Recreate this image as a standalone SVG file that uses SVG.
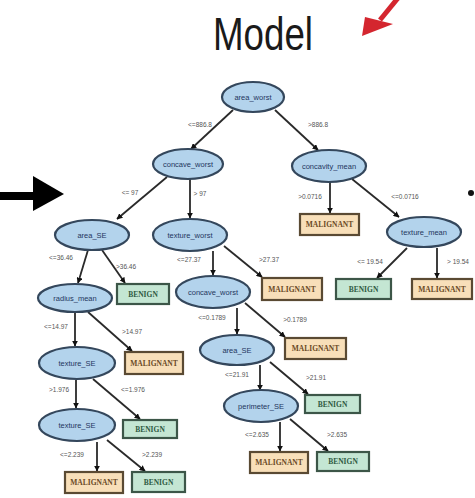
<svg xmlns="http://www.w3.org/2000/svg" width="475" height="498" viewBox="0 0 475 498">
  <style>
    .split ellipse { fill: #b3d3ec; stroke: #34475c; stroke-width: 2.2; }
    .split text { font-family: "Liberation Sans Narrow", "Liberation Sans", sans-serif; font-size: 7.5px; fill: #24365e; text-anchor: middle; }
    .leaf rect { stroke-width: 2.2; }
    .leaf text { font-family: "Liberation Serif", serif; font-size: 7.5px; font-weight: bold; text-anchor: middle; }
    .mal rect { fill: #f8dfb9; stroke: #5a4a33; }
    .mal text { fill: #6a4a26; }
    .ben rect { fill: #c4e6d3; stroke: #3c5648; }
    .ben text { fill: #2f5a42; }
    .edges line { stroke: #2a2a2a; stroke-width: 1.8; marker-end: url(#tip); }
    .cond { font-family: "Liberation Sans Narrow", "Liberation Sans", sans-serif; font-size: 6.5px; fill: #555; text-anchor: middle; }
    .title { font-family: "Liberation Sans Narrow", "Liberation Sans", sans-serif; font-size: 46px; fill: #1a1a1a; text-anchor: middle; }
  </style>
  <defs>
    <marker id="tip" viewBox="0 0 10 10" refX="9" refY="5" markerWidth="6" markerHeight="6" markerUnits="userSpaceOnUse" orient="auto">
      <path d="M0,0 L10,5 L0,10 z" fill="#111"/>
    </marker>
  </defs>

  <rect width="475" height="498" fill="#ffffff"/>

  <!-- heading and pointers -->
  <text class="title" x="263" y="50" textLength="100" lengthAdjust="spacingAndGlyphs">Model</text>
  <g id="red-arrow" fill="#d4262f">
    <line x1="398" y1="-2" x2="380" y2="20" stroke="#d4262f" stroke-width="5"/>
    <polygon points="362,36 365,17 393,24"/>
  </g>
  <g id="black-arrow" fill="#000">
    <rect x="0" y="192" width="35" height="8"/>
    <polygon points="33,176 33,211 64,194"/>
  </g>
  <circle cx="471" cy="193" r="3" fill="#111"/>

  <!-- connectors -->
  <g class="edges">
    <line x1="233" y1="110" x2="191" y2="149"/>
    <line x1="275" y1="110" x2="318" y2="150"/>
    <line x1="167" y1="177" x2="117" y2="219"/>
    <line x1="190" y1="179" x2="190" y2="218"/>
    <line x1="330" y1="182" x2="330" y2="213"/>
    <line x1="352" y1="179" x2="399" y2="217"/>
    <line x1="407" y1="248" x2="377" y2="278"/>
    <line x1="437" y1="248" x2="437" y2="278"/>
    <line x1="88" y1="250" x2="78" y2="283"/>
    <line x1="102" y1="250" x2="125" y2="283"/>
    <line x1="75" y1="312" x2="75" y2="346"/>
    <line x1="88" y1="312" x2="132" y2="351"/>
    <line x1="76" y1="380" x2="76" y2="408"/>
    <line x1="93" y1="379" x2="140" y2="419"/>
    <line x1="97" y1="442" x2="97" y2="471"/>
    <line x1="107" y1="440" x2="145" y2="471"/>
    <line x1="213" y1="251" x2="213" y2="275"/>
    <line x1="224" y1="246" x2="262" y2="277"/>
    <line x1="237" y1="308" x2="237" y2="334"/>
    <line x1="245" y1="303" x2="285" y2="337"/>
    <line x1="260" y1="365" x2="260" y2="390"/>
    <line x1="270" y1="362" x2="308" y2="394"/>
    <line x1="280" y1="422" x2="280" y2="451"/>
    <line x1="290" y1="419" x2="328" y2="451"/>
  </g>

  <!-- split conditions -->
  <g id="conditions">
    <text class="cond" x="200" y="127">&lt;=886.8</text>
    <text class="cond" x="318" y="127">&gt;886.8</text>
    <text class="cond" x="130" y="195">&lt;= 97</text>
    <text class="cond" x="200" y="196">&gt; 97</text>
    <text class="cond" x="310" y="199">&gt;0.0716</text>
    <text class="cond" x="405" y="199">&lt;=0.0716</text>
    <text class="cond" x="370" y="264">&lt;= 19.54</text>
    <text class="cond" x="458" y="264">&gt; 19.54</text>
    <text class="cond" x="61" y="260">&lt;=36.46</text>
    <text class="cond" x="126" y="269">&gt;36.46</text>
    <text class="cond" x="56" y="329">&lt;=14.97</text>
    <text class="cond" x="132" y="334">&gt;14.97</text>
    <text class="cond" x="59" y="392">&gt;1.976</text>
    <text class="cond" x="133" y="392">&lt;=1.976</text>
    <text class="cond" x="72" y="457">&lt;=2.239</text>
    <text class="cond" x="152" y="457">&gt;2.239</text>
    <text class="cond" x="189" y="262">&lt;=27.37</text>
    <text class="cond" x="269" y="262">&gt;27.37</text>
    <text class="cond" x="212" y="320">&lt;=0.1789</text>
    <text class="cond" x="295" y="322">&gt;0.1789</text>
    <text class="cond" x="237" y="377">&lt;=21.91</text>
    <text class="cond" x="316" y="380">&gt;21.91</text>
    <text class="cond" x="257" y="437">&lt;=2.635</text>
    <text class="cond" x="337" y="437">&gt;2.635</text>
  </g>

  <!-- split nodes -->
  <g id="area_worst" class="split"><ellipse cx="253" cy="97" rx="31" ry="15"/><text x="253" y="99.5">area_worst</text></g>
  <g id="concave_worst" class="split"><ellipse cx="188" cy="164" rx="35" ry="15"/><text x="188" y="166.5">concave_worst</text></g>
  <g id="concavity_mean" class="split"><ellipse cx="329" cy="166" rx="37" ry="16"/><text x="329" y="168.5">concavity_mean</text></g>
  <g id="area_SE" class="split"><ellipse cx="92" cy="235" rx="37" ry="15"/><text x="92" y="237.5">area_SE</text></g>
  <g id="texture_worst" class="split"><ellipse cx="190" cy="235" rx="37" ry="16"/><text x="190" y="237.5">texture_worst</text></g>
  <g id="texture_mean" class="split"><ellipse cx="424" cy="232" rx="37" ry="15"/><text x="424" y="234.5">texture_mean</text></g>
  <g id="radius_mean" class="split"><ellipse cx="75" cy="298" rx="37" ry="14"/><text x="75" y="300.5">radius_mean</text></g>
  <g id="concave_worst_2" class="split"><ellipse cx="213" cy="292" rx="37" ry="16"/><text x="213" y="294.5">concave_worst</text></g>
  <g id="area_SE_2" class="split"><ellipse cx="237" cy="350" rx="37" ry="15"/><text x="237" y="352.5">area_SE</text></g>
  <g id="texture_SE" class="split"><ellipse cx="77" cy="363" rx="38" ry="16"/><text x="77" y="365.5">texture_SE</text></g>
  <g id="perimeter_SE" class="split"><ellipse cx="261" cy="406" rx="37" ry="16"/><text x="261" y="408.5">perimeter_SE</text></g>
  <g id="texture_SE_2" class="split"><ellipse cx="77" cy="425" rx="38" ry="16"/><text x="77" y="427.5">texture_SE</text></g>

  <!-- leaf nodes -->
  <g id="leaf_m1" class="leaf mal"><rect x="300" y="214" width="59" height="21"/><text x="329.5" y="227">MALIGNANT</text></g>
  <g id="leaf_b1" class="leaf ben"><rect x="336" y="279" width="55" height="20"/><text x="363.5" y="291.5">BENIGN</text></g>
  <g id="leaf_m2" class="leaf mal"><rect x="412" y="279" width="60" height="20"/><text x="442" y="291.5">MALIGNANT</text></g>
  <g id="leaf_m3" class="leaf mal"><rect x="262" y="278" width="60" height="22"/><text x="292" y="291.5">MALIGNANT</text></g>
  <g id="leaf_b2" class="leaf ben"><rect x="117" y="284" width="52" height="20"/><text x="143" y="296.5">BENIGN</text></g>
  <g id="leaf_m4" class="leaf mal"><rect x="285" y="338" width="61" height="21"/><text x="315.5" y="351">MALIGNANT</text></g>
  <g id="leaf_m5" class="leaf mal"><rect x="125" y="352" width="58" height="22"/><text x="154" y="365.5">MALIGNANT</text></g>
  <g id="leaf_b3" class="leaf ben"><rect x="305" y="395" width="55" height="18"/><text x="332.5" y="406.5">BENIGN</text></g>
  <g id="leaf_b4" class="leaf ben"><rect x="123" y="420" width="54" height="18"/><text x="150" y="431.5">BENIGN</text></g>
  <g id="leaf_m6" class="leaf mal"><rect x="250" y="452" width="58" height="21"/><text x="279" y="465">MALIGNANT</text></g>
  <g id="leaf_b5" class="leaf ben"><rect x="317" y="452" width="52" height="19"/><text x="343" y="464">BENIGN</text></g>
  <g id="leaf_m7" class="leaf mal"><rect x="65" y="472" width="58" height="21"/><text x="94" y="485">MALIGNANT</text></g>
  <g id="leaf_b6" class="leaf ben"><rect x="132" y="472" width="53" height="20"/><text x="158.5" y="484.5">BENIGN</text></g>
</svg>
